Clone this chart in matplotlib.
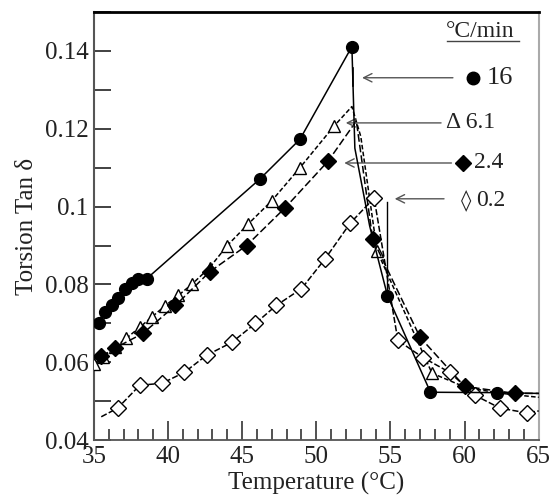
import matplotlib
matplotlib.use("Agg")
import matplotlib.pyplot as plt
from matplotlib.ticker import MultipleLocator, FuncFormatter
from matplotlib.lines import Line2D

plt.rcParams['font.family'] = ['Liberation Serif', 'DejaVu Serif']

# ---- data ----
t16 = [35.34, 35.74, 36.21, 36.62, 37.09, 37.56, 37.97, 38.57, 46.2, 48.9, 52.4, 52.6, 53.6, 54.8, 57.7, 62.2, 65.0]
y16 = [0.070, 0.0728, 0.0746, 0.0764, 0.0789, 0.0804, 0.0815, 0.0815, 0.1071, 0.1173, 0.1411, 0.115, 0.095, 0.0771, 0.0523, 0.0522, 0.052]
m16 = [1, 1, 1, 1, 1, 1, 1, 1, 1, 1, 1, 0, 0, 1, 1, 1, 0]

t61 = [35.0, 35.6, 36.4, 37.2, 38.1, 38.9, 39.8, 40.7, 41.6, 42.8, 44.0, 45.4, 47.0, 48.9, 51.2, 52.4, 53.0, 54.1, 57.8, 60.1, 62.5, 65.0]
y61 = [0.0595, 0.0613, 0.0638, 0.0662, 0.0690, 0.0716, 0.0745, 0.0772, 0.0800, 0.0843, 0.0900, 0.0955, 0.1015, 0.1100, 0.1207, 0.1257, 0.118, 0.0886, 0.0572, 0.0535, 0.052, 0.051]
m61 = [1, 1, 1, 1, 1, 1, 1, 1, 1, 1, 1, 1, 1, 1, 1, 0, 0, 1, 1, 0, 0, 0]

t24 = [35.5, 36.4, 38.3, 40.5, 42.8, 45.3, 47.9, 50.8, 52.7, 53.8, 57.0, 60.0, 63.4, 65.0]
y24 = [0.0615, 0.0636, 0.0674, 0.0746, 0.0832, 0.0900, 0.0997, 0.1117, 0.1220, 0.0917, 0.0664, 0.0538, 0.0520, 0.0520]
m24 = [1, 1, 1, 1, 1, 1, 1, 1, 0, 1, 1, 1, 1, 0]

t02 = [35.5, 36.6, 38.1, 39.6, 41.1, 42.6, 44.3, 45.9, 47.3, 49.0, 50.6, 52.3, 53.9, 55.5, 57.2, 59.0, 60.7, 62.4, 64.2, 65.0]
y02 = [0.046, 0.0482, 0.0541, 0.0546, 0.0574, 0.0618, 0.0651, 0.070, 0.0746, 0.0789, 0.0866, 0.0958, 0.1022, 0.0656, 0.0612, 0.0574, 0.0515, 0.0482, 0.047, 0.0475]
m02 = [0, 1, 1, 1, 1, 1, 1, 1, 1, 1, 1, 1, 1, 1, 1, 1, 1, 1, 1, 0]

rate_labels = ["16", "Δ 6.1", "2.4", "0.2"]
xticks = [35, 40, 45, 50, 55, 60, 65]
yticks = [0.04, 0.06, 0.08, 0.10, 0.12, 0.14]

# ---- figure ----
fig = plt.figure(figsize=(5.52, 4.99), dpi=100)
ax = fig.add_axes([0.170, 0.118, 0.806, 0.858])
ax.set_xlim(35, 65)
ax.set_ylim(0.04, 0.15)

def mk(lst):
    return [bool(v) for v in lst]

ax.plot(t16, y16, color='k', lw=1.1, ls='-', marker='o', ms=8.5,
        mfc='k', mec='k', markevery=mk(m16), zorder=4)
ax.plot(t61, y61, color='k', lw=1.1, ls=(0, (3, 1.5)), marker='^', ms=8,
        mfc='white', mec='k', mew=1.0, markevery=mk(m61), zorder=3)
ax.plot(t24, y24, color='k', lw=1.1, ls=(0, (5, 2)), marker='D', ms=8,
        mfc='k', mec='k', markevery=mk(m24), zorder=3)
ax.plot(t02, y02, color='k', lw=1.1, ls=(0, (4, 1.5)), marker='D', ms=8.5,
        mfc='white', mec='k', mew=1.0, markevery=mk(m02), zorder=3)

# ---- axes styling ----
ax.xaxis.set_major_locator(plt.FixedLocator(xticks))
ax.xaxis.set_minor_locator(MultipleLocator(1))
ax.yaxis.set_major_locator(plt.FixedLocator(yticks))
ax.yaxis.set_minor_locator(MultipleLocator(0.01))
ax.yaxis.set_major_formatter(FuncFormatter(lambda v, p: ('%g' % round(v, 3))))
ax.tick_params(axis='both', which='both', direction='in', colors='#333333',
               labelsize=18, labelcolor='#222222')
ax.tick_params(axis='y', which='major', length=12, width=1.3, pad=4)
ax.tick_params(axis='y', which='minor', length=12, width=1.3)
ax.tick_params(axis='x', which='major', length=14, width=1.2, pad=4)
ax.tick_params(axis='x', which='minor', length=8, width=1.2)

ax.spines['top'].set_color('k')
ax.spines['top'].set_linewidth(2.0)
ax.spines['left'].set_color('#555555')
ax.spines['left'].set_linewidth(1.5)
ax.spines['bottom'].set_color('#555555')
ax.spines['bottom'].set_linewidth(1.3)
ax.spines['right'].set_color('#aaaaaa')
ax.spines['right'].set_linewidth(1.5)

ax.set_xlabel('Temperature (°C)', fontsize=18, color='#222222', labelpad=3)
ax.set_ylabel('Torsion Tan δ', fontsize=18, color='#222222', labelpad=5)

# ---- in-plot key with arrows ----
tc = '#222222'
ax.text(58.75, 0.1450, '°C/min', fontsize=17, color=tc, ha='left', va='center')
ax.add_line(Line2D([58.8, 63.7], [0.1426, 0.1426], color='#444444', lw=1.0))

arrow = dict(arrowstyle='->', color='#555555', lw=1.0, mutation_scale=15)

# 16
ax.plot([60.55], [0.1331], marker='o', ms=9, color='k', ls='none')
ax.text(61.5, 0.1331, rate_labels[0], fontsize=19, color=tc, ha='left', va='center')
ax.annotate('', xy=(52.9, 0.1331), xytext=(59.4, 0.1331), arrowprops=arrow)
ax.add_line(Line2D([52.45, 52.45], [0.1310, 0.1355], color='k', lw=1.2))

# 6.1
ax.text(58.75, 0.1215, rate_labels[1], fontsize=17, color=tc, ha='left', va='center')
ax.annotate('', xy=(51.8, 0.1215), xytext=(58.6, 0.1215), arrowprops=arrow)

# 2.4
ax.plot([59.9], [0.1112], marker='D', ms=8.5, color='k', ls='none')
ax.text(60.65, 0.1112, rate_labels[2], fontsize=17, color=tc, ha='left', va='center')
ax.annotate('', xy=(51.7, 0.1112), xytext=(59.3, 0.1112), arrowprops=arrow)

# 0.2
ax.text(59.75, 0.1015, '◊', fontsize=15, color=tc, ha='left', va='center',
        family=['DejaVu Serif', 'DejaVu Sans'])
ax.text(60.75, 0.1015, rate_labels[3], fontsize=17, color=tc, ha='left', va='center')
ax.annotate('', xy=(55.1, 0.1020), xytext=(58.8, 0.1020), arrowprops=arrow)
ax.add_line(Line2D([54.75, 54.75], [0.1012, 0.0778], color='k', lw=1.0))

fig.savefig('out.png', dpi=100)
